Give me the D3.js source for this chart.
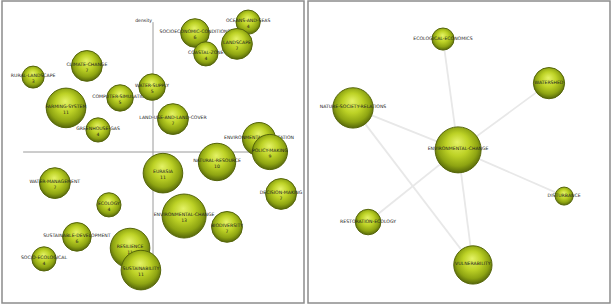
<!DOCTYPE html>
<html>
<head>
<meta charset="utf-8">
<script src="https://cdn.jsdelivr.net/npm/d3@7"></script>
<style>
  body { margin: 0; background: #fff; }
  .lbl { font-family: "DejaVu Sans", sans-serif; font-size: 4.6px; fill: #222; }
</style>
</head>
<body>
<svg id="chart" width="613" height="306"></svg>
<script>
// strategic diagram (left) - themes ordered top to bottom
const themes = ['OCEANS-AND-SEAS', 'SOCIOECONOMIC-CONDITIONS', 'LANDSCAPE', 'COASTAL-ZONE', 'CLIMATE-CHANGE',
  'RURAL-LANDSCAPE', 'COMPUTER-SIMULATION', 'WATER-SUPPLY', 'FARMING-SYSTEM', 'LAND-USE-AND-LAND-COVER',
  'GREENHOUSE-GAS', 'ENVIRONMENTAL-ADAPTATION', 'POLICY-MAKING', 'NATURAL-RESOURCE', 'EURASIA',
  'WATER-MANAGEMENT', 'DECISION-MAKING', 'ECOLOGY', 'ENVIRONMENTAL-CHANGE', 'BIODIVERSITY',
  'SUSTAINABLE-DEVELOPMENT', 'RESILIENCE', 'SOCIO-ECOLOGICAL', 'SUSTAINABILITY'];
const centrality = [81.5, 63.9, 77.8, 67.5, 28.1, 10.3, 39.1, 49.7, 21.2, 56.6, 31.8, 85.1, 88.7, 71.2, 53.3,
  17.5, 92.4, 35.4, 60.3, 74.5, 24.8, 42.4, 13.9, 46.0];
const density = [93.0, 89.4, 85.8, 82.5, 78.5, 74.8, 67.9, 71.5, 64.6, 60.9, 57.3, 54.3, 50.0, 46.7, 43.0,
  39.7, 36.1, 32.5, 28.8, 25.2, 21.9, 18.2, 14.6, 10.9];
const docs = [4, 6, 7, 4, 7, 3, 5, 5, 11, 7, 4, 8, 9, 10, 11, 7, 7, 4, 13, 7, 6, 11, 4, 11];

// thematic network (right)
const netNodes = ['ECOLOGICAL-ECONOMICS', 'WATERSHED', 'NATURE-SOCIETY-RELATIONS', 'ENVIRONMENTAL-CHANGE',
  'DISTURBANCE', 'RESTORATION-ECOLOGY', 'VULNERABILITY'];
const netX = [44.7, 79.8, 14.9, 49.7, 84.8, 19.9, 54.6];
const netY = [12.6, 27.2, 35.4, 49.3, 64.6, 73.2, 87.4];
const netDocs = [3, 6, 10, 13, 2, 4, 9];
const netEdges = [[3, 0], [3, 1], [3, 2], [3, 4], [3, 5], [3, 6], [2, 6]];

const svg = d3.select('#chart');

// sphere-like fill
const defs = svg.append('defs');
const grad = defs.append('radialGradient')
    .attr('id', 'ball')
    .attr('cx', '50%').attr('cy', '45%').attr('r', '55%')
    .attr('fx', '48%').attr('fy', '33%');
grad.append('stop').attr('offset', '0%').attr('stop-color', '#e4f266');
grad.append('stop').attr('offset', '45%').attr('stop-color', '#bdd226');
grad.append('stop').attr('offset', '78%').attr('stop-color', '#8ea412');
grad.append('stop').attr('offset', '100%').attr('stop-color', '#56670a');

// panel frames
const panels = [[2, 1, 302, 302], [308, 1, 302, 302]];
svg.selectAll('.frame')
    .data(panels)
    .join('rect')
    .attr('class', 'frame')
    .attr('x', d => d[0]).attr('y', d => d[1])
    .attr('width', d => d[2]).attr('height', d => d[3])
    .attr('fill', 'none')
    .attr('stroke', '#8c8c8c')
    .attr('stroke-width', 1.5);

// ---- strategic diagram ----
const xScale = d3.scaleLinear().domain([0, 100]).range([2, 304]);
const yScale = d3.scaleLinear().domain([0, 100]).range([303, 1]);
const rScale = d3.scaleLinear().domain([3, 13]).range([11, 22]);

const left = svg.append('g');
// axes through the middle
left.append('line')
    .attr('x1', xScale(50)).attr('x2', xScale(50))
    .attr('y1', yScale(93)).attr('y2', yScale(7))
    .attr('stroke', '#9a9a9a').attr('stroke-width', 1);
left.append('line')
    .attr('x1', xScale(7)).attr('x2', xScale(93))
    .attr('y1', yScale(50)).attr('y2', yScale(50))
    .attr('stroke', '#9a9a9a').attr('stroke-width', 1);
left.append('text')
    .attr('class', 'lbl')
    .attr('x', xScale(50) - 1).attr('y', yScale(93))
    .attr('text-anchor', 'end')
    .text('density');
left.append('text')
    .attr('class', 'lbl')
    .attr('x', xScale(93)).attr('y', yScale(50) - 2)
    .attr('text-anchor', 'end')
    .text('centrality');

const themeData = themes.map((t, i) => ({name: t, c: centrality[i], d: density[i], n: docs[i]}));
const bubble = left.selectAll('.theme')
    .data(themeData)
    .join('g')
    .attr('class', 'theme')
    .attr('transform', d => `translate(${xScale(d.c)},${yScale(d.d)})`);
bubble.append('circle')
    .attr('r', d => rScale(d.n))
    .attr('fill', 'url(#ball)')
    .attr('stroke', '#56660a')
    .attr('stroke-width', 1);
bubble.append('text')
    .attr('class', 'lbl')
    .attr('text-anchor', 'middle')
    .attr('dominant-baseline', 'central')
    .attr('y', -1.5)
    .text(d => d.name);
bubble.append('text')
    .attr('class', 'lbl')
    .attr('text-anchor', 'middle')
    .attr('dominant-baseline', 'central')
    .attr('y', 4.5)
    .text(d => d.n);

// ---- thematic network ----
const nxScale = d3.scaleLinear().domain([0, 100]).range([308, 610]);
const nyScale = d3.scaleLinear().domain([0, 100]).range([1, 303]);
const nrScale = d3.scaleSqrt().domain([0, 13]).range([0, 23]);

const right = svg.append('g');
right.selectAll('.edge')
    .data(netEdges)
    .join('line')
    .attr('class', 'edge')
    .attr('x1', d => nxScale(netX[d[0]])).attr('y1', d => nyScale(netY[d[0]]))
    .attr('x2', d => nxScale(netX[d[1]])).attr('y2', d => nyScale(netY[d[1]]))
    .attr('stroke', '#e8e8e8')
    .attr('stroke-width', 1.8);

const nodeData = netNodes.map((t, i) => ({name: t, x: netX[i], y: netY[i], n: netDocs[i]}));
const node = right.selectAll('.node')
    .data(nodeData)
    .join('g')
    .attr('class', 'node')
    .attr('transform', d => `translate(${nxScale(d.x)},${nyScale(d.y)})`);
node.append('circle')
    .attr('r', d => nrScale(d.n))
    .attr('fill', 'url(#ball)')
    .attr('stroke', '#56660a')
    .attr('stroke-width', 1);
node.append('text')
    .attr('class', 'lbl')
    .attr('text-anchor', 'middle')
    .attr('dominant-baseline', 'central')
    .attr('y', -1)
    .text(d => d.name);
</script>
</body>
</html>
